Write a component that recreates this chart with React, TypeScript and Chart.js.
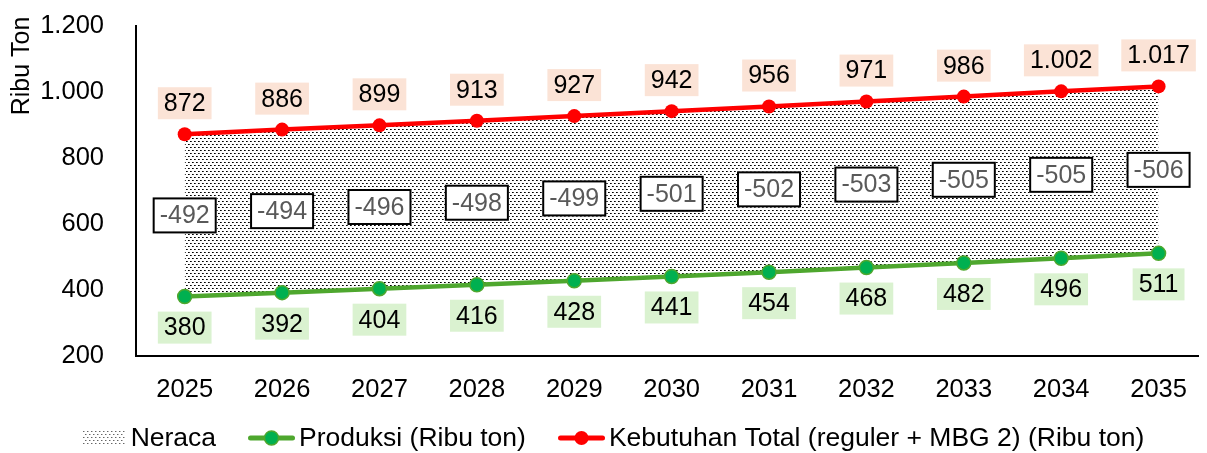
import React, { useEffect, useRef } from "react";
import { Chart, registerables } from "chart.js";

Chart.register(...registerables);

// ---- data ----
const years = [2025, 2026, 2027, 2028, 2029, 2030, 2031, 2032, 2033, 2034, 2035];
const produksi = [380, 392, 404, 416, 428, 441, 454, 468, 482, 496, 511];
const kebutuhan = [872, 886, 899, 913, 927, 942, 956, 971, 986, 1002, 1017];
const neraca = [-492, -494, -496, -498, -499, -501, -502, -503, -505, -505, -506];
const yTickValues = [200, 400, 600, 800, 1000, 1200];
const seriesNames = ["Neraca", "Produksi (Ribu ton)", "Kebutuhan Total (reguler + MBG 2) (Ribu ton)"];
const yTitle = "Ribu Ton";

const FONT = "'Liberation Sans', Arial, Helvetica, sans-serif";
const RED = "#FF0000";
const GREEN_LINE = "#4EA72E";
const GREEN_DOT = "#00B050";

function fmt(v: number): string {
  const s = String(Math.abs(Math.round(v))).replace(/\B(?=(\d{3})+(?!\d))/g, ".");
  return (v < 0 ? "-" : "") + s;
}

function makeTile(dark: string, mid: string): HTMLCanvasElement {
  const c = document.createElement("canvas");
  c.width = 4;
  c.height = 6;
  const g = c.getContext("2d")!;
  g.fillStyle = "#ffffff";
  g.fillRect(0, 0, 4, 6);
  const dot = (x: number, y: number) => {
    g.fillStyle = dark;
    g.fillRect(x, y, 1, 1);
    g.fillStyle = mid;
    g.fillRect(x + 1, y, 1, 1);
  };
  dot(0, 0);
  dot(2, 3);
  return c;
}

function patternSwatch(): HTMLCanvasElement {
  const c = document.createElement("canvas");
  c.width = 42;
  c.height = 14;
  const g = c.getContext("2d")!;
  const p = g.createPattern(makeTile("#666", "#bbb"), "repeat")!;
  g.fillStyle = p;
  g.fillRect(0, 0, 42, 14);
  return c;
}

function lineSwatch(lineColor: string, dotColor: string, dotBorder: string): HTMLCanvasElement {
  const c = document.createElement("canvas");
  c.width = 47;
  c.height = 16;
  const g = c.getContext("2d")!;
  g.strokeStyle = lineColor;
  g.lineWidth = 5;
  g.lineCap = "round";
  g.beginPath();
  g.moveTo(2.5, 8);
  g.lineTo(44.5, 8);
  g.stroke();
  g.fillStyle = dotColor;
  g.beginPath();
  g.arc(23.5, 8, 7, 0, Math.PI * 2);
  g.fill();
  if (dotBorder !== dotColor) {
    g.strokeStyle = dotBorder;
    g.lineWidth = 1.5;
    g.stroke();
  }
  return c;
}

function drawBox(
  ctx: CanvasRenderingContext2D,
  text: string,
  cx: number,
  cy: number,
  padX: number,
  h: number,
  fill: string,
  border: string | null,
  color: string
) {
  const w = ctx.measureText(text).width + padX * 2;
  ctx.fillStyle = fill;
  ctx.fillRect(cx - w / 2, cy - h / 2, w, h);
  if (border) {
    ctx.strokeStyle = border;
    ctx.lineWidth = 2;
    ctx.strokeRect(cx - w / 2 + 1, cy - h / 2 + 1, w - 2, h - 2);
  }
  ctx.fillStyle = color;
  ctx.fillText(text, cx, cy + 1);
}

const valueLabels = {
  id: "valueLabels",
  afterDatasetsDraw(chart: any) {
    const ctx: CanvasRenderingContext2D = chart.ctx;
    const metaP = chart.getDatasetMeta(1);
    const metaK = chart.getDatasetMeta(2);
    ctx.save();
    ctx.font = `25px ${FONT}`;
    ctx.textAlign = "center";
    ctx.textBaseline = "middle";
    years.forEach((_, i) => {
      const pk = metaK.data[i];
      const pp = metaP.data[i];
      if (!pk || !pp) return;
      drawBox(ctx, fmt(kebutuhan[i]), pk.x, pk.y - 31, 6, 32, "#FBE3D6", null, "#000000");
      drawBox(ctx, fmt(produksi[i]), pp.x, pp.y + 31, 6, 32, "#DAF2D0", null, "#000000");
      drawBox(ctx, fmt(neraca[i]), pk.x, (pk.y + pp.y) / 2, 7, 36, "#FFFFFF", "#000000", "#595959");
    });
    ctx.restore();
  },
};

const yTitlePlugin = {
  id: "yTitlePlugin",
  afterDraw(chart: any) {
    const ctx: CanvasRenderingContext2D = chart.ctx;
    ctx.save();
    ctx.font = `25px ${FONT}`;
    ctx.fillStyle = "#000000";
    ctx.textAlign = "center";
    ctx.textBaseline = "middle";
    ctx.translate(22, 66);
    ctx.rotate(-Math.PI / 2);
    ctx.fillText(yTitle, 0, 0);
    ctx.restore();
  },
};

function makeLegendPlugin(swatches: HTMLCanvasElement[]) {
  return {
    id: "customLegend",
    afterDraw(chart: any) {
      const ctx: CanvasRenderingContext2D = chart.ctx;
      ctx.save();
      ctx.font = `26.5px ${FONT}`;
      ctx.fillStyle = "#000000";
      ctx.textAlign = "left";
      ctx.textBaseline = "middle";
      const gapAfterSwatch = [6, 4, 4];
      const spacing = 32;
      const widths = seriesNames.map(
        (t, i) => swatches[i].width + gapAfterSwatch[i] + ctx.measureText(t).width
      );
      const total = widths.reduce((a, b) => a + b, 0) + spacing * (widths.length - 1);
      const cy = chart.height - 15;
      let x = chart.width / 2 + 10 - total / 2;
      seriesNames.forEach((t, i) => {
        const sw = swatches[i];
        ctx.drawImage(sw, Math.round(x), Math.round(cy - sw.height / 2));
        ctx.fillText(t, x + sw.width + gapAfterSwatch[i], cy + 1);
        x += widths[i] + spacing;
      });
      ctx.restore();
    },
  };
}

export default function App() {
  const ref = useRef<HTMLCanvasElement | null>(null);

  useEffect(() => {
    document.body.style.margin = "0";
    const canvas = ref.current;
    if (!canvas) return;
    const ctx = canvas.getContext("2d")!;
    const fillPattern = ctx.createPattern(makeTile("#000", "#444"), "repeat")!;
    const swatches = [
      patternSwatch(),
      lineSwatch(GREEN_LINE, GREEN_DOT, GREEN_LINE),
      lineSwatch(RED, RED, RED),
    ];

    const chart = new Chart(canvas, {
      type: "line",
      data: {
        datasets: [
          {
            label: seriesNames[0],
            data: years.map((x, i) => ({ x, y: kebutuhan[i] })),
            borderWidth: 0,
            borderColor: "rgba(0,0,0,0)",
            backgroundColor: fillPattern as any,
            pointRadius: 0,
            fill: { target: 1 },
            tension: 0,
          },
          {
            label: seriesNames[1],
            data: years.map((x, i) => ({ x, y: produksi[i] })),
            borderColor: GREEN_LINE,
            borderWidth: 4.5,
            pointRadius: 7,
            pointBackgroundColor: GREEN_DOT,
            pointBorderColor: GREEN_LINE,
            pointBorderWidth: 1.5,
            fill: false,
            tension: 0,
          },
          {
            label: seriesNames[2],
            data: years.map((x, i) => ({ x, y: kebutuhan[i] })),
            borderColor: RED,
            borderWidth: 4.5,
            pointRadius: 7,
            pointBackgroundColor: RED,
            pointBorderColor: RED,
            pointBorderWidth: 0,
            fill: false,
            tension: 0,
          },
        ],
      },
      options: {
        responsive: true,
        maintainAspectRatio: false,
        animation: false,
        events: [],
        layout: { padding: { top: 26, left: 24, right: 0, bottom: 49 } },
        scales: {
          x: {
            type: "linear",
            min: 2024.5,
            max: 2035.41,
            grid: { display: false },
            border: { display: true, color: "#000000", width: 2 },
            ticks: {
              color: "#000000",
              font: { family: FONT, size: 25.5 },
              padding: 11,
              maxRotation: 0,
              autoSkip: false,
              callback: (v: any) => String(v),
            },
            afterBuildTicks: (s: any) => {
              s.ticks = years.map((v) => ({ value: v }));
            },
            afterFit: (s: any) => {
              s.height = 48;
              s.paddingLeft = 0;
              s.paddingRight = 0;
            },
          },
          y: {
            type: "linear",
            min: 200,
            max: 1200,
            grid: { display: false },
            border: { display: true, color: "#000000", width: 2 },
            ticks: {
              color: "#000000",
              font: { family: FONT, size: 25.5 },
              padding: 24,
              callback: (v: any) => fmt(Number(v)),
            },
            afterBuildTicks: (s: any) => {
              s.ticks = yTickValues.map((v) => ({ value: v }));
            },
            afterFit: (s: any) => {
              s.width = 112;
              s.paddingTop = 0;
              s.paddingBottom = 0;
            },
          },
        },
        plugins: {
          filler: { drawTime: "beforeDatasetsDraw" } as any,
          tooltip: { enabled: false },
          legend: { display: false },
        },
      },
      plugins: [valueLabels, yTitlePlugin, makeLegendPlugin(swatches)],
    });

    return () => chart.destroy();
  }, []);

  return (
    <div style={{ position: "absolute", left: 0, top: 0, width: 1207, height: 453 }}>
      <canvas ref={ref} />
    </div>
  );
}
